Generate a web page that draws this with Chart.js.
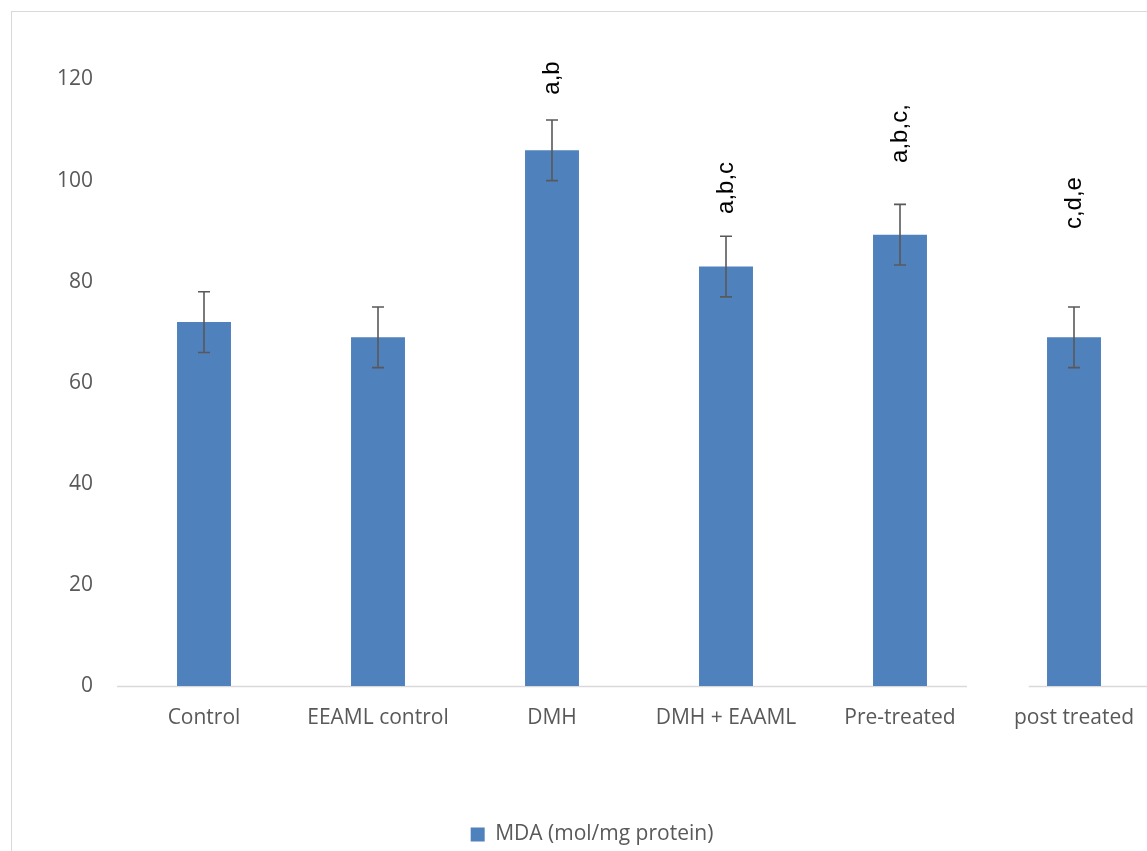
<!DOCTYPE html>
<html>
<head>
<meta charset="utf-8">
<script src="https://cdn.jsdelivr.net/npm/chart.js@4.4.1/dist/chart.umd.min.js"></script>
<style>
  html, body { margin: 0; padding: 0; background: #ffffff; overflow: hidden; width: 1147px; height: 851px; }
  #frame { position: absolute; left: 11px; top: 11px; width: 1200px; height: 900px; border-left: 1px solid #d9d9d9; border-top: 1px solid #d9d9d9; }
  #wrap { position: absolute; left: 0; top: 0; width: 1184px; height: 857px; }
</style>
</head>
<body>
<div id="frame"></div>
<div id="wrap"><canvas id="c" width="1184" height="857"></canvas></div>
<script>
// ---- data ----
const categories = ["Control", "EEAML control", "DMH", "DMH + EAAML", "Pre-treated", "post treated"];
const mdaValues = [72, 69, 106, 83, 89.3, 69];
const mdaErrors = [6, 6, 6, 6, 6, 6];
const significanceLabels = ["", "", "a,b", "a,b,c", "a,b,c,", "c,d,e"];
const significanceAnchor = [null, null, 117, 93.4, 103.5, 90.4];
const yTicks = [0, 20, 40, 60, 80, 100, 120];
const seriesName = "MDA (mol/mg protein)";

const errorBarPlugin = {
  id: 'errorBars',
  afterDatasetsDraw(chart) {
    const ctx = chart.ctx;
    const x = chart.scales.x, y = chart.scales.y;
    ctx.save();
    ctx.strokeStyle = '#595959';
    ctx.lineWidth = 1.6;
    mdaValues.forEach((v, i) => {
      const px = x.getPixelForValue(i);
      const top = y.getPixelForValue(v + mdaErrors[i]);
      const bot = y.getPixelForValue(v - mdaErrors[i]);
      ctx.beginPath();
      ctx.moveTo(px, top); ctx.lineTo(px, bot);
      ctx.moveTo(px - 6, top); ctx.lineTo(px + 6, top);
      ctx.moveTo(px - 6, bot); ctx.lineTo(px + 6, bot);
      ctx.stroke();
    });
    // significance letters
    ctx.fillStyle = '#000000';
    ctx.font = '24px "Liberation Sans", Arial, sans-serif';
    ctx.textAlign = 'left';
    ctx.textBaseline = 'middle';
    significanceLabels.forEach((t, i) => {
      if (!t) return;
      const px = x.getPixelForValue(i);
      const py = y.getPixelForValue(significanceAnchor[i]);
      ctx.save();
      ctx.translate(px, py);
      ctx.rotate(-Math.PI / 2);
      ctx.fillText(t, 0, 0);
      ctx.restore();
    });
    ctx.restore();
  },
  beforeDatasetsDraw(chart) {
    const ctx = chart.ctx;
    const x = chart.scales.x, y = chart.scales.y;
    const base = Math.round(y.getPixelForValue(0)) + 0.5;
    const step = x.getPixelForValue(1) - x.getPixelForValue(0);
    const gapStart = x.getPixelForValue(4) + step * 0.385;
    const gapEnd = x.getPixelForValue(5) - step * 0.26;
    ctx.save();
    ctx.strokeStyle = '#d9d9d9';
    ctx.lineWidth = 1.5;
    ctx.beginPath();
    ctx.moveTo(chart.chartArea.left, base); ctx.lineTo(gapStart, base);
    ctx.moveTo(gapEnd, base); ctx.lineTo(chart.chartArea.right, base);
    ctx.stroke();
    ctx.restore();
  }
};

new Chart(document.getElementById('c'), {
  type: 'bar',
  data: {
    labels: categories,
    datasets: [{
      label: seriesName,
      data: mdaValues,
      backgroundColor: '#4f81bd',
      borderWidth: 0,
      barPercentage: 0.31,
      categoryPercentage: 1.0
    }]
  },
  options: {
    responsive: false,
    animation: false,
    layout: { padding: { left: 23, right: 23, top: 79.5, bottom: 2 } },
    plugins: {
      legend: {
        position: 'bottom',
        labels: {
          boxWidth: 14, boxHeight: 14, padding: 1,
          color: '#595959',
          font: { family: '"Open Sans", sans-serif', size: 21 }
        }
      },
      tooltip: { enabled: false }
    },
    scales: {
      x: {
        grid: { display: false, drawTicks: false },
        border: { display: false },
        ticks: { color: '#595959', padding: 19, maxRotation: 0, font: { family: '"Open Sans", sans-serif', size: 21 } },
        afterFit(scale) { scale.height = 137; }
      },
      y: {
        min: 0, max: 120,
        afterBuildTicks(scale) { scale.ticks = yTicks.map(v => ({ value: v })); },
        grid: { display: false, drawTicks: false },
        border: { display: false },
        ticks: { color: '#595959', padding: 24, font: { family: '"Open Sans", sans-serif', size: 21 } },
        afterFit(scale) { scale.width = 94; }
      }
    }
  },
  plugins: [errorBarPlugin]
});
</script>
</body>
</html>
